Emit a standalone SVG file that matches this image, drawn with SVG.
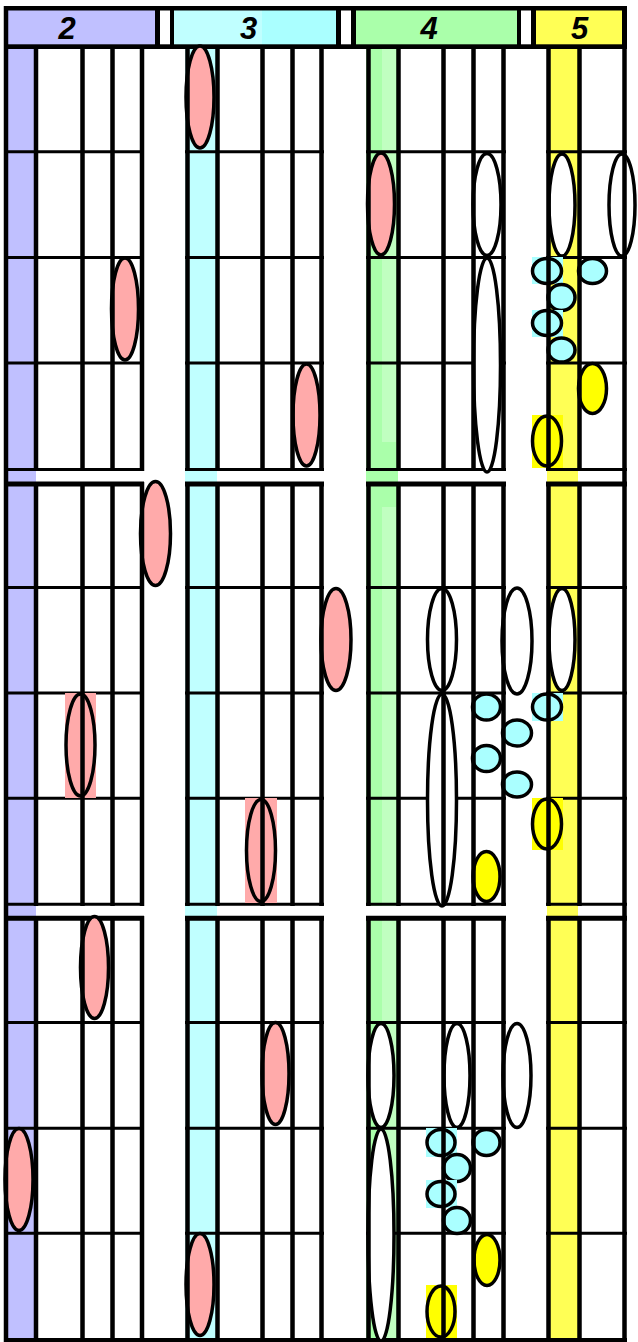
<svg xmlns="http://www.w3.org/2000/svg" width="638" height="1342" viewBox="0 0 638 1342">
<style>
.hl{stroke:#000;stroke-width:3}
.ht{stroke:#000;stroke-width:5}
.vl{stroke:#000;stroke-width:4.5}
.n{stroke:#000;stroke-width:3.5}
.pk{fill:#ffaaaa}
.cy{fill:#aaffff}
.ye{fill:#ffff00}
.wh{fill:#ffffff}
.hd{font-family:"Liberation Sans",Arial,sans-serif;font-size:31px;font-weight:bold;font-style:italic;text-anchor:middle;fill:#000}
</style>
<rect x="0" y="0" width="638" height="1342" fill="#fff"/>
<g id="header">
<rect x="4" y="6" width="623" height="43" fill="#000"/>
<rect x="8" y="10.5" width="147" height="33.8" fill="#c0c0ff"/>
<rect x="160" y="10.5" width="10" height="33.8" fill="#fff"/>
<rect x="174" y="10.5" width="88" height="33.8" fill="#c0ffff"/>
<rect x="262" y="10.5" width="74" height="33.8" fill="#aaffff"/>
<rect x="341" y="10.5" width="10" height="33.8" fill="#fff"/>
<rect x="356" y="10.5" width="161" height="33.8" fill="#aaffaa"/>
<rect x="521" y="10.5" width="10" height="33.8" fill="#fff"/>
<rect x="536" y="10.5" width="86" height="33.8" fill="#ffff55"/>
<text class="hd" x="67" y="38.5">2</text>
<text class="hd" x="248.5" y="38.5">3</text>
<text class="hd" x="429" y="38.5">4</text>
<text class="hd" x="579.5" y="38.5">5</text>
</g>
<g id="bands">
<rect x="6" y="49" width="30" height="1293" fill="#c0c0ff"/>
<rect x="185" y="49" width="32" height="1293" fill="#c0ffff"/>
<rect x="366" y="49" width="32" height="857" fill="#aaffaa"/>
<rect x="366" y="916" width="32" height="426" fill="#aaffaa"/>
<rect x="382" y="49" width="14" height="393" fill="#c0ffc0"/>
<rect x="382" y="507" width="14" height="399" fill="#c0ffc0"/>
<rect x="382" y="916" width="14" height="426" fill="#c0ffc0"/>
<rect x="547" y="49" width="31" height="1293" fill="#ffff55"/>
</g>
<g id="rows">
<g id="sec1-rows">
<path class="hl" d="M4 151.7H144M185 151.7H324M366 151.7H506M546 151.7H627"/>
<path class="hl" d="M4 257.5H144M185 257.5H324M366 257.5H506M546 257.5H627"/>
<path class="hl" d="M4 363H144M185 363H324M366 363H506M546 363H627"/>
<path class="hl" d="M4 469.5H144M185 469.5H324M366 469.5H506M546 469.5H627"/>
</g>
<g id="sec2-rows">
<path class="ht" d="M4 484H144M185 484H324M366 484H506M546 484H627"/>
<path class="hl" d="M4 587.5H144M185 587.5H324M366 587.5H506M546 587.5H627"/>
<path class="hl" d="M4 693H144M185 693H324M366 693H506M546 693H627"/>
<path class="hl" d="M4 798.3H144M185 798.3H324M366 798.3H506M546 798.3H627"/>
<path class="hl" d="M4 904.3H144M185 904.3H324M366 904.3H506M546 904.3H627"/>
</g>
<g id="sec3-rows">
<path class="ht" d="M4 918.3H144M185 918.3H324M366 918.3H506M546 918.3H627"/>
<path class="hl" d="M4 1022.5H144M185 1022.5H324M366 1022.5H506M546 1022.5H627"/>
<path class="hl" d="M4 1128.3H144M185 1128.3H324M366 1128.3H506M546 1128.3H627"/>
<path class="hl" d="M4 1233.3H144M185 1233.3H324M366 1233.3H506M546 1233.3H627"/>
<path class="ht" d="M4 1340.5H627"/>
</g>
</g>
<g id="notes">
<g id="s1-p1"><ellipse class="n pk" cx="200" cy="97" rx="14" ry="51"/></g>
<g id="s1-p2"><ellipse class="n pk" cx="125" cy="309" rx="13.5" ry="51"/></g>
<g id="s1-p3"><ellipse class="n pk" cx="306.5" cy="415" rx="13.5" ry="51"/></g>
<g id="s1-p4"><ellipse class="n pk" cx="381" cy="204" rx="13.5" ry="51"/></g>
<g id="s1-w1"><ellipse class="n wh" cx="487" cy="204.5" rx="14" ry="51"/></g>
<g id="s1-w2"><ellipse class="n wh" cx="487" cy="365" rx="13.5" ry="107"/></g>
<g id="s1-w3"><ellipse class="n wh" cx="562" cy="205" rx="13" ry="51"/></g>
<g id="s1-w4"><ellipse class="n wh" cx="622" cy="205" rx="13" ry="51"/></g>
<g id="s1-c1"><rect x="532" y="257" width="31" height="27" fill="#aaffff"/><ellipse class="n cy" cx="547" cy="271" rx="14.5" ry="12.5"/></g>
<g id="s1-c2"><ellipse class="n cy" cx="592.5" cy="271" rx="14" ry="12.5"/></g>
<g id="s1-c3"><ellipse class="n cy" cx="561.5" cy="297.5" rx="13.5" ry="13"/></g>
<g id="s1-c4"><rect x="532" y="310" width="31" height="27" fill="#aaffff"/><ellipse class="n cy" cx="547" cy="323" rx="14.5" ry="12.5"/></g>
<g id="s1-c5"><ellipse class="n cy" cx="561.5" cy="350" rx="13.5" ry="12"/></g>
<g id="s1-y1"><ellipse class="n ye" cx="592.5" cy="388.5" rx="14" ry="25"/></g>
<g id="s1-y2"><rect x="532" y="415" width="31" height="53" fill="#ffff00"/><ellipse class="n ye" cx="547" cy="441" rx="14.5" ry="25"/></g>

<g id="s2-p1"><ellipse class="n pk" cx="155.5" cy="533.5" rx="15" ry="52"/></g>
<g id="s2-p2"><rect x="65" y="693" width="31" height="105" fill="#ffaaaa"/><ellipse class="n pk" cx="80.5" cy="745" rx="14.5" ry="51"/></g>
<g id="s2-p3"><rect x="245" y="798" width="32" height="105" fill="#ffaaaa"/><ellipse class="n pk" cx="261" cy="850.5" rx="14.5" ry="51"/></g>
<g id="s2-p4"><ellipse class="n pk" cx="336" cy="639.5" rx="15" ry="51"/></g>
<g id="s2-w1"><ellipse class="n wh" cx="442" cy="639.5" rx="14.5" ry="51"/></g>
<g id="s2-w2"><ellipse class="n wh" cx="442" cy="800" rx="14.5" ry="106"/></g>
<g id="s2-w3"><ellipse class="n wh" cx="517" cy="641" rx="15" ry="53"/></g>
<g id="s2-w4"><ellipse class="n wh" cx="562" cy="639.5" rx="13" ry="51"/></g>
<g id="s2-c1"><ellipse class="n cy" cx="486.5" cy="707" rx="14" ry="13"/></g>
<g id="s2-c2"><rect x="532" y="693" width="31" height="28" fill="#aaffff"/><ellipse class="n cy" cx="547" cy="707" rx="14.5" ry="13"/></g>
<g id="s2-c3"><ellipse class="n cy" cx="517" cy="733" rx="14.5" ry="13"/></g>
<g id="s2-c4"><ellipse class="n cy" cx="486.5" cy="758.5" rx="14" ry="13"/></g>
<g id="s2-c5"><ellipse class="n cy" cx="517" cy="784.5" rx="14.5" ry="12.5"/></g>
<g id="s2-y1"><rect x="532" y="798" width="31" height="52" fill="#ffff00"/><ellipse class="n ye" cx="547" cy="824" rx="14.5" ry="25"/></g>
<g id="s2-y2"><ellipse class="n ye" cx="486.5" cy="876.5" rx="13.5" ry="25"/></g>

<g id="s3-p1"><ellipse class="n pk" cx="94.5" cy="967.5" rx="14" ry="51"/></g>
<g id="s3-p2"><ellipse class="n pk" cx="275.5" cy="1073.5" rx="13.5" ry="51"/></g>
<g id="s3-p3"><ellipse class="n pk" cx="19" cy="1179.5" rx="14" ry="51"/></g>
<g id="s3-p4"><ellipse class="n pk" cx="200" cy="1284.5" rx="14" ry="51"/></g>
<g id="s3-w1"><ellipse class="n wh" cx="381" cy="1075.5" rx="13" ry="52"/></g>
<g id="s3-w2"><ellipse class="n wh" cx="457" cy="1075.5" rx="13" ry="52"/></g>
<g id="s3-w3"><ellipse class="n wh" cx="517" cy="1075.5" rx="14" ry="52"/></g>
<g id="s3-w4"><ellipse class="n wh" cx="381" cy="1235" rx="13" ry="106"/></g>
<g id="s3-c1"><rect x="426" y="1128" width="31" height="29" fill="#aaffff"/><ellipse class="n cy" cx="441" cy="1142.5" rx="14" ry="13"/></g>
<g id="s3-c2"><ellipse class="n cy" cx="486.5" cy="1142.5" rx="13.5" ry="13"/></g>
<g id="s3-c3"><ellipse class="n cy" cx="457" cy="1168" rx="13.5" ry="13.5"/></g>
<g id="s3-c4"><rect x="426" y="1180" width="31" height="28" fill="#aaffff"/><ellipse class="n cy" cx="441" cy="1194" rx="14" ry="12.5"/></g>
<g id="s3-c5"><ellipse class="n cy" cx="457" cy="1220.5" rx="13.5" ry="13"/></g>
<g id="s3-y1"><ellipse class="n ye" cx="487" cy="1260" rx="13" ry="25.5"/></g>
<g id="s3-y2"><rect x="426" y="1285" width="31" height="53" fill="#ffff00"/><ellipse class="n ye" cx="441" cy="1311.5" rx="14" ry="25.5"/></g>
</g>
<g id="columns">
<path class="vl" d="M6 6V1342M624.5 6V1342"/>
<path class="vl" d="M36 49V471M82.5 49V471M112.5 49V471M142 49V471M187.5 49V471M217.5 49V471M262.5 49V471M292.5 49V471M321.5 49V471M368.5 49V471M398.5 49V471M443.5 49V471M473.5 49V471M503.5 49V471M548.5 49V471M579.5 49V471"/>
<path class="vl" d="M36 482V906M82.5 482V906M112.5 482V906M142 482V906M187.5 482V906M217.5 482V906M262.5 482V906M292.5 482V906M321.5 482V906M368.5 482V906M398.5 482V906M443.5 482V906M473.5 482V906M503.5 482V906M548.5 482V906M579.5 482V906"/>
<path class="vl" d="M36 916V1342M82.5 916V1342M112.5 916V1342M142 916V1342M187.5 916V1342M217.5 916V1342M262.5 916V1342M292.5 916V1342M321.5 916V1342M368.5 916V1342M398.5 916V1342M443.5 916V1342M473.5 916V1342M503.5 916V1342M548.5 916V1342M579.5 916V1342"/>
</g>
<g id="connectors"/>
</svg>
